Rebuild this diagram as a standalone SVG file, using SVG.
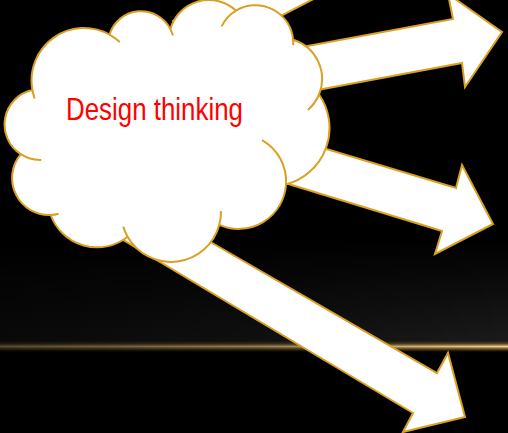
<svg xmlns="http://www.w3.org/2000/svg" width="508" height="433" viewBox="0 0 508 433">
  <defs>
    <style>
      .shape { fill: #ffffff; stroke: #DAA024; stroke-width: 2; stroke-linejoin: miter; }
      .tail { fill: none; stroke: #DAA024; stroke-width: 2; }
      .label { font-family: "Liberation Sans", Arial, sans-serif; font-size: 32px; fill: #FF0000; }
    </style>
    <linearGradient id="bandV" x1="0" y1="0" x2="0" y2="1">
      <stop offset="0" stop-color="#1b1b1b" stop-opacity="0"/>
      <stop offset="1" stop-color="#1b1b1b" stop-opacity="1"/>
    </linearGradient>
    <linearGradient id="lineV" x1="0" y1="0" x2="0" y2="1">
      <stop offset="0" stop-color="#6a4c18" stop-opacity="0"/>
      <stop offset="0.3" stop-color="#9a7632" stop-opacity="0.8"/>
      <stop offset="0.5" stop-color="#ecd39a" stop-opacity="1"/>
      <stop offset="0.7" stop-color="#9a7632" stop-opacity="0.8"/>
      <stop offset="1" stop-color="#6a4c18" stop-opacity="0"/>
    </linearGradient>
    <linearGradient id="fadeH" x1="0" y1="0" x2="1" y2="0">
      <stop offset="0" stop-color="#fff" stop-opacity="0.35"/>
      <stop offset="0.5" stop-color="#fff" stop-opacity="0.6"/>
      <stop offset="1" stop-color="#fff" stop-opacity="1"/>
    </linearGradient>
    <mask id="hmask" maskUnits="userSpaceOnUse" x="0" y="0" width="508" height="433">
      <rect x="0" y="0" width="508" height="433" fill="url(#fadeH)"/>
    </mask>
  </defs>

  <g id="background">
    <rect x="0" y="0" width="508" height="433" fill="#000000"/>
    <g mask="url(#hmask)">
      <rect x="0" y="240" width="508" height="103" fill="url(#bandV)"/>
      <rect x="0" y="341" width="508" height="11" fill="url(#lineV)"/>
    </g>
  </g>

  <g id="connectors">
    <polygon id="arrow-1" class="shape" points="194,61 354,-22 333,-62 173,21"/>
    <polygon id="arrow-2" class="shape" points="200,66 453,19 448,-6 502,32 465,87 462,63 200,112"/>
    <polygon id="arrow-3" class="shape" points="200,111 456,188 462,165 493,224 435,254 442,231 200,157"/>
    <polygon id="arrow-4" class="shape" points="150,207 437,373 448,353 465,417 403,432 413,413 120,238"/>
  </g>

  <g id="node-design-thinking">
    <path class="shape" d="M32.4,90 A52.5,52.5 0 0 1 109.5,34.6 A33,33 0 0 1 170.4,29.1 A40,40 0 0 1 236,10.6 A37.7,37.7 0 0 1 293.1,39.8 A41,41 0 0 1 319,94.5 A58.5,58.5 0 0 1 286,184.5 A47.5,47.5 0 0 1 219.3,224.8 A50,50 0 0 1 127.6,236.7 A49.3,49.3 0 0 1 50.7,215 A37,37 0 0 1 20.8,154.2 A35.3,35.3 0 0 1 32.4,90 Z"/>
    <path class="tail" d="M109.5,34.6 A52.5,52.5 0 0 1 119.8,42.1"/>
    <path class="tail" d="M34.7,98.5 A52.5,52.5 0 0 1 32.4,90"/>
    <path class="tail" d="M170.4,29.1 A33,33 0 0 1 172.9,35.5"/>
    <path class="tail" d="M221.6,26.4 A37.7,37.7 0 0 1 236,10.6"/>
    <path class="tail" d="M293.1,39.8 A37.7,37.7 0 0 1 293.2,45.3"/>
    <path class="tail" d="M319,94.5 A41,41 0 0 1 307.9,109.9"/>
    <path class="tail" d="M262,140.1 A47.5,47.5 0 0 1 286,184.5"/>
    <path class="tail" d="M221,211.1 A50,50 0 0 1 219.3,224.8"/>
    <path class="tail" d="M127.6,236.7 A50,50 0 0 1 123.2,226.6"/>
    <path class="tail" d="M50.7,215 A37,37 0 0 0 58.6,213.7"/>
    <path class="tail" d="M20.8,154.2 A35.3,35.3 0 0 0 41.2,159.9"/>
    <text class="label" x="66" y="120" textLength="177" lengthAdjust="spacingAndGlyphs">Design thinking</text>
  </g>
</svg>
